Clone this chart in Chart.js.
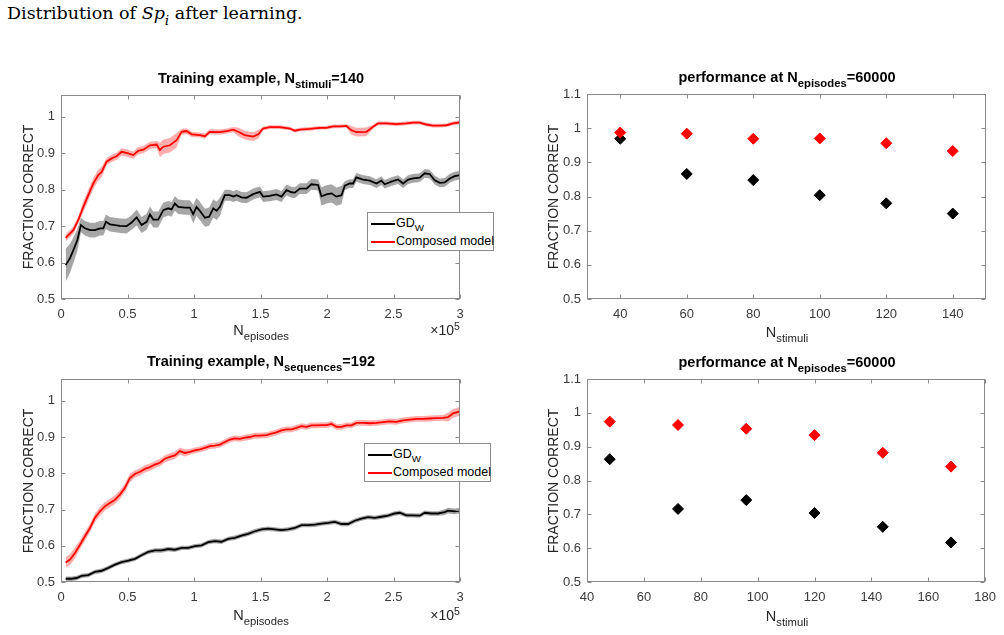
<!DOCTYPE html>
<html>
<head>
<meta charset="utf-8">
<script src="https://cdn.jsdelivr.net/npm/chart.js@4"></script>
<style>
body { margin:0; width:1004px; height:635px; position:relative; background:#fff; overflow:hidden;
  font-family:"Liberation Sans", Arial, sans-serif; color:#262626; }
canvas { position:absolute; }
.t { position:absolute; white-space:nowrap; line-height:1; transform:translateX(-50%); }
.title { font-weight:bold; font-size:14.5px; color:#000; }
.xl { font-size:14.5px; }
.yl { font-size:14px; transform:translate(-50%,-50%) rotate(-90deg); }
sub { font-size:78%; vertical-align:-0.45em; line-height:0; }
sup { font-size:75%; vertical-align:0.5em; line-height:0; }
.leg { position:absolute; background:#fff; border:1px solid #8c8c8c; font-size:12.5px; line-height:1; color:#000; }
.leg div { position:absolute; left:28px; white-space:nowrap; }
.leg span { position:absolute; left:3px; width:24px; height:2px; }
.caption { position:absolute; left:7px; top:3px; font-family:"DejaVu Serif", serif; font-size:17.5px; color:#000; }
</style>
</head>
<body>
<div class="caption">Distribution of <i>Sp<sub>i</sub></i> after learning.</div>

<canvas id="c1" width="500" height="280" style="left:0;top:60px"></canvas>
<canvas id="c2" width="504" height="290" style="left:500px;top:60px"></canvas>
<canvas id="c3" width="500" height="285" style="left:0;top:350px"></canvas>
<canvas id="c4" width="504" height="285" style="left:500px;top:350px"></canvas>

<div class="t title" style="left:261px;top:71px">Training example, N<sub>stimuli</sub>=140</div>
<div class="t title" style="left:787px;top:70px">performance at N<sub>episodes</sub>=60000</div>
<div class="t title" style="left:261px;top:354px">Training example, N<sub>sequences</sub>=192</div>
<div class="t title" style="left:787px;top:355px">performance at N<sub>episodes</sub>=60000</div>

<div class="t xl" style="left:261px;top:323px">N<sub>episodes</sub></div>
<div class="t xl" style="left:787px;top:325px">N<sub>stimuli</sub></div>
<div class="t xl" style="left:261px;top:608px">N<sub>episodes</sub></div>
<div class="t xl" style="left:787px;top:609px">N<sub>stimuli</sub></div>
<div class="t xl" style="left:445px;top:323px;font-size:14px">&times;10<sup>5</sup></div>
<div class="t xl" style="left:445px;top:608px;font-size:14px">&times;10<sup>5</sup></div>

<div class="t yl" style="left:28px;top:197px">FRACTION CORRECT</div>
<div class="t yl" style="left:553px;top:197px">FRACTION CORRECT</div>
<div class="t yl" style="left:28px;top:481px">FRACTION CORRECT</div>
<div class="t yl" style="left:553px;top:481px">FRACTION CORRECT</div>

<div class="leg" style="left:367px;top:212px;width:125px;height:37px">
  <span style="top:10px;background:#000"></span><div style="top:4px">GD<sub>W</sub></div>
  <span style="top:28px;background:#f00"></span><div style="top:22px">Composed model</div>
</div>
<div class="leg" style="left:364px;top:443px;width:125px;height:37px">
  <span style="top:10px;background:#000"></span><div style="top:4px">GD<sub>W</sub></div>
  <span style="top:28px;background:#f00"></span><div style="top:22px">Composed model</div>
</div>

<script>
// ---- top left: training example, N_stimuli = 140 (x in units of 1e5 episodes)
const tlGdX = [0.035,0.068,0.093,0.123,0.150,0.180,0.218,0.255,0.293,0.318,0.338,0.368,0.406,0.443,0.493,0.531,0.569,0.606,0.644,0.669,
  0.694,0.731,0.769,0.806,0.831,0.856,0.882,0.932,0.969,0.994,1.019,1.044,1.082,1.114,1.145,1.170,1.195,1.232,1.270,1.295,
  1.320,1.357,1.395,1.445,1.495,1.520,1.570,1.620,1.658,1.696,1.733,1.758,1.796,1.846,1.883,1.933,1.958,1.996,2.034,2.071,
  2.109,2.134,2.171,2.196,2.221,2.272,2.322,2.372,2.409,2.434,2.484,2.534,2.572,2.610,2.647,2.697,2.735,2.772,2.810,2.848,
  2.885,2.923,2.960,3.000];
const tlGdY = [0.593,0.612,0.634,0.662,0.703,0.694,0.689,0.689,0.694,0.694,0.712,0.705,0.703,0.701,0.700,0.710,0.724,0.703,0.712,0.732,
  0.718,0.718,0.744,0.749,0.746,0.762,0.753,0.751,0.751,0.733,0.753,0.742,0.723,0.726,0.749,0.742,0.753,0.785,0.785,0.781,
  0.785,0.779,0.778,0.788,0.794,0.781,0.783,0.787,0.781,0.799,0.793,0.792,0.803,0.803,0.815,0.813,0.782,0.787,0.790,0.781,
  0.785,0.811,0.817,0.817,0.834,0.828,0.825,0.817,0.825,0.815,0.822,0.828,0.817,0.828,0.831,0.833,0.845,0.843,0.826,0.819,
  0.820,0.831,0.837,0.840];
const tlGdErr = [0.045,0.040,0.035,0.030,0.020,0.020,0.020,0.020,0.020,0.020,0.020,0.020,0.020,0.020,0.020,0.020,0.022,0.022,0.022,0.022,
  0.022,0.022,0.020,0.020,0.020,0.020,0.020,0.020,0.020,0.025,0.025,0.025,0.025,0.025,0.025,0.025,0.025,0.015,0.015,0.015,
  0.015,0.015,0.015,0.015,0.015,0.015,0.015,0.015,0.015,0.015,0.015,0.015,0.015,0.015,0.015,0.015,0.025,0.025,0.025,0.025,
  0.025,0.012,0.012,0.012,0.012,0.012,0.012,0.012,0.012,0.012,0.012,0.012,0.012,0.012,0.012,0.012,0.012,0.012,0.012,0.012,
  0.012,0.012,0.012,0.012];
const tlCmX = [0.035,0.093,0.130,0.168,0.205,0.243,0.280,0.306,0.343,0.381,0.418,0.456,0.493,0.543,0.581,0.619,0.669,0.719,0.744,0.769,
  0.819,0.869,0.907,0.944,0.982,1.044,1.082,1.119,1.195,1.245,1.295,1.332,1.382,1.445,1.483,1.520,1.570,1.645,1.721,1.758,
  1.796,1.871,1.946,1.996,2.046,2.096,2.146,2.184,2.221,2.297,2.347,2.384,2.447,2.522,2.597,2.647,2.697,2.747,2.797,2.848,
  2.898,2.948,3.000];
const tlCmY = [0.668,0.689,0.717,0.753,0.785,0.817,0.840,0.849,0.877,0.886,0.892,0.904,0.901,0.895,0.907,0.910,0.922,0.924,0.909,0.918,
  0.922,0.936,0.959,0.961,0.952,0.950,0.947,0.959,0.958,0.961,0.965,0.959,0.950,0.946,0.952,0.968,0.972,0.972,0.968,0.962,
  0.965,0.967,0.970,0.970,0.974,0.974,0.975,0.963,0.958,0.959,0.973,0.982,0.982,0.980,0.982,0.984,0.984,0.979,0.976,0.976,
  0.977,0.982,0.985];
const tlCmErr = [0.010,0.010,0.010,0.015,0.015,0.015,0.015,0.015,0.010,0.010,0.010,0.010,0.010,0.010,0.010,0.010,0.010,0.010,0.020,0.020,
  0.020,0.020,0.008,0.008,0.007,0.007,0.007,0.007,0.007,0.007,0.007,0.012,0.012,0.012,0.012,0.005,0.005,0.005,0.005,0.005,
  0.005,0.005,0.005,0.005,0.005,0.005,0.005,0.012,0.012,0.012,0.005,0.005,0.005,0.005,0.005,0.005,0.005,0.005,0.005,0.005,
  0.005,0.005,0.006];

// ---- bottom left: training example, N_sequences = 192
const blGdX = [0.035,0.080,0.118,0.155,0.205,0.255,0.306,0.356,0.406,0.456,0.506,0.556,0.606,0.656,0.706,0.756,0.806,0.856,0.907,0.957,
  1.007,1.057,1.107,1.157,1.207,1.257,1.307,1.357,1.407,1.458,1.508,1.558,1.608,1.658,1.708,1.758,1.808,1.858,1.908,1.958,
  2.009,2.059,2.109,2.159,2.209,2.259,2.309,2.359,2.409,2.459,2.509,2.547,2.597,2.647,2.697,2.735,2.785,2.835,2.885,2.910,
  2.960,3.000];
const blGdY = [0.509,0.509,0.511,0.517,0.519,0.528,0.531,0.539,0.548,0.555,0.559,0.564,0.574,0.583,0.587,0.587,0.591,0.589,0.594,0.594,
  0.599,0.601,0.610,0.613,0.611,0.619,0.622,0.628,0.633,0.640,0.645,0.647,0.645,0.643,0.645,0.649,0.657,0.657,0.658,0.661,
  0.663,0.666,0.660,0.660,0.669,0.675,0.679,0.677,0.680,0.683,0.689,0.691,0.684,0.684,0.683,0.691,0.689,0.689,0.693,0.697,
  0.695,0.697];
const blGdErr = [0.006,0.006,0.006,0.006,0.006,0.006,0.006,0.006,0.006,0.006,0.006,0.006,0.006,0.006,0.006,0.006,0.006,0.006,0.006,0.006,
  0.006,0.006,0.006,0.006,0.006,0.006,0.006,0.006,0.006,0.006,0.006,0.006,0.006,0.006,0.006,0.006,0.006,0.006,0.006,0.006,
  0.006,0.006,0.006,0.006,0.006,0.006,0.006,0.006,0.006,0.006,0.006,0.006,0.006,0.006,0.006,0.006,0.006,0.006,0.008,0.008,
  0.008,0.008];
const blCmX = [0.035,0.068,0.105,0.143,0.180,0.218,0.255,0.293,0.331,0.368,0.406,0.443,0.481,0.518,0.556,0.594,0.631,0.669,0.706,0.744,
  0.781,0.819,0.856,0.894,0.932,0.969,1.007,1.044,1.082,1.119,1.157,1.195,1.232,1.270,1.307,1.345,1.382,1.420,1.458,1.495,
  1.545,1.583,1.620,1.658,1.696,1.733,1.771,1.808,1.846,1.883,1.921,1.958,1.996,2.034,2.071,2.109,2.146,2.184,2.221,2.272,
  2.322,2.372,2.422,2.472,2.522,2.572,2.622,2.672,2.722,2.772,2.822,2.873,2.910,2.948,3.000];
const blCmY = [0.554,0.562,0.580,0.603,0.626,0.649,0.677,0.695,0.709,0.718,0.727,0.741,0.760,0.787,0.798,0.804,0.812,0.817,0.824,0.829,
  0.840,0.845,0.849,0.861,0.856,0.859,0.863,0.866,0.870,0.875,0.876,0.879,0.886,0.893,0.896,0.895,0.898,0.900,0.904,0.904,
  0.905,0.909,0.913,0.918,0.921,0.921,0.925,0.930,0.928,0.932,0.932,0.933,0.933,0.936,0.928,0.928,0.932,0.932,0.939,0.939,
  0.938,0.939,0.941,0.943,0.942,0.946,0.948,0.950,0.950,0.951,0.952,0.953,0.955,0.965,0.971];
const blCmErr = [0.015,0.015,0.015,0.012,0.012,0.012,0.012,0.012,0.012,0.012,0.012,0.012,0.012,0.012,0.010,0.010,0.010,0.010,0.010,0.010,
  0.010,0.010,0.010,0.010,0.010,0.008,0.008,0.008,0.008,0.008,0.008,0.008,0.008,0.008,0.008,0.008,0.008,0.008,0.008,0.008,
  0.008,0.008,0.008,0.008,0.008,0.008,0.008,0.008,0.008,0.008,0.008,0.008,0.008,0.008,0.008,0.008,0.008,0.008,0.008,0.008,
  0.008,0.008,0.008,0.008,0.008,0.008,0.008,0.008,0.008,0.008,0.008,0.008,0.012,0.012,0.012];

// ---- right panels: performance at N_episodes = 60000
const trStimuli = [40, 60, 80, 100, 120, 140];
const trGd = [0.969, 0.866, 0.848, 0.804, 0.780, 0.750];
const trComposed = [0.987, 0.984, 0.969, 0.970, 0.956, 0.933];
const brStimuli = [48, 72, 96, 120, 144, 168];
const brGd = [0.863, 0.716, 0.742, 0.704, 0.663, 0.617];
const brComposed = [0.974, 0.964, 0.953, 0.934, 0.882, 0.841];

// tick labels
const episodeTicks = [0, 0.5, 1, 1.5, 2, 2.5, 3];
const leftYTicks = [0.5, 0.6, 0.7, 0.8, 0.9, 1];
const rightYTicks = [0.5, 0.6, 0.7, 0.8, 0.9, 1, 1.1];
const trXTicks = [40, 60, 80, 100, 120, 140];
const brXTicks = [40, 60, 80, 100, 120, 140, 160, 180];

const tickFont = { family: "'Liberation Sans', Arial, sans-serif", size: 13 };

// MATLAB-like box with tick marks pointing inwards on all four sides
const matlabBox = {
  id: 'matlabBox',
  afterDraw(chart) {
    const { ctx, chartArea: a, scales } = chart;
    const l = Math.round(a.left) + 0.5, r = Math.round(a.right) - 0.5;
    const t = Math.round(a.top) + 0.5, b = Math.round(a.bottom) - 0.5;
    ctx.save();
    ctx.strokeStyle = '#8a8a8a';
    ctx.lineWidth = 1;
    ctx.beginPath();
    scales.x.ticks.forEach(tk => {
      const px = Math.round(scales.x.getPixelForValue(tk.value)) + 0.5;
      ctx.moveTo(px, b); ctx.lineTo(px, b - 4);
      ctx.moveTo(px, t); ctx.lineTo(px, t + 4);
    });
    scales.y.ticks.forEach(tk => {
      const py = Math.round(scales.y.getPixelForValue(tk.value)) + 0.5;
      ctx.moveTo(l, py); ctx.lineTo(l + 4, py);
      ctx.moveTo(r, py); ctx.lineTo(r - 4, py);
    });
    ctx.stroke();
    ctx.strokeRect(l, t, r - l, b - t);
    ctx.restore();
  }
};

function fmt(v) { return String(+v.toFixed(2)); }

function makeOptions(xMin, xMax, xTicks, yMin, yMax, yTicks, yWidth, xHeight, padTop, padRight) {
  return {
    responsive: false,
    animation: false,
    layout: { padding: { top: padTop, right: padRight, left: 0, bottom: 0 } },
    plugins: { legend: { display: false }, tooltip: { enabled: false } },
    scales: {
      x: {
        type: 'linear', min: xMin, max: xMax,
        grid: { display: false, drawTicks: false }, border: { display: false },
        afterBuildTicks: s => { s.ticks = xTicks.map(v => ({ value: v })); },
        afterFit: s => { s.height = xHeight; },
        ticks: { font: tickFont, color: '#3a3a3a', padding: 8, maxRotation: 0, callback: fmt }
      },
      y: {
        min: yMin, max: yMax,
        grid: { display: false, drawTicks: false }, border: { display: false },
        afterBuildTicks: s => { s.ticks = yTicks.map(v => ({ value: v })); },
        afterFit: s => { s.width = yWidth; },
        ticks: { font: tickFont, color: '#3a3a3a', padding: 6, callback: fmt }
      }
    }
  };
}

function pts(xs, ys) { return xs.map((x, i) => ({ x: x, y: ys[i] })); }
function shifted(ys, errs, sign) { return ys.map((y, i) => y + sign * errs[i]); }

function bandSets(xs, ys, errs, band) {
  return [
    { data: pts(xs, shifted(ys, errs, 1)), fill: '+1', backgroundColor: band, borderWidth: 0, pointRadius: 0, order: 2 },
    { data: pts(xs, shifted(ys, errs, -1)), fill: false, borderWidth: 0, pointRadius: 0, order: 2 }
  ];
}

function lineSet(xs, ys, color) {
  return { data: pts(xs, ys), borderColor: color, borderWidth: 1.8, pointRadius: 0, fill: false, tension: 0, order: 0 };
}

new Chart(document.getElementById('c1'), {
  type: 'line',
  data: { datasets: [
    ...bandSets(tlGdX, tlGdY, tlGdErr, 'rgba(0,0,0,0.35)'),
    ...bandSets(tlCmX, tlCmY, tlCmErr, 'rgba(255,0,0,0.32)'),
    lineSet(tlGdX, tlGdY, '#000'),
    lineSet(tlCmX, tlCmY, '#ff0000')
  ]},
  options: makeOptions(0, 3, episodeTicks, 0.5, 1.06, leftYTicks, 61, 41, 35, 40),
  plugins: [matlabBox]
});

new Chart(document.getElementById('c3'), {
  type: 'line',
  data: { datasets: [
    ...bandSets(blGdX, blGdY, blGdErr, 'rgba(0,0,0,0.35)'),
    ...bandSets(blCmX, blCmY, blCmErr, 'rgba(255,0,0,0.32)'),
    lineSet(blGdX, blGdY, '#000'),
    lineSet(blCmX, blCmY, '#ff0000')
  ]},
  options: makeOptions(0, 3, episodeTicks, 0.5, 1.06, leftYTicks, 61, 53, 29, 40),
  plugins: [matlabBox]
});

function diamonds(xs, ys, color) {
  return { data: pts(xs, ys), pointStyle: 'rectRot', pointRadius: 5.5, backgroundColor: color, borderColor: color, borderWidth: 1 };
}

new Chart(document.getElementById('c2'), {
  type: 'scatter',
  data: { datasets: [
    diamonds(trStimuli, trComposed, '#ff0000'),
    diamonds(trStimuli, trGd, '#000')
  ]},
  options: makeOptions(30, 150, trXTicks, 0.5, 1.1, rightYTicks, 87, 51, 34, 18),
  plugins: [matlabBox]
});

new Chart(document.getElementById('c4'), {
  type: 'scatter',
  data: { datasets: [
    diamonds(brStimuli, brComposed, '#ff0000'),
    diamonds(brStimuli, brGd, '#000')
  ]},
  options: makeOptions(40, 180, brXTicks, 0.5, 1.1, rightYTicks, 87, 53, 29, 18),
  plugins: [matlabBox]
});
</script>
</body>
</html>
